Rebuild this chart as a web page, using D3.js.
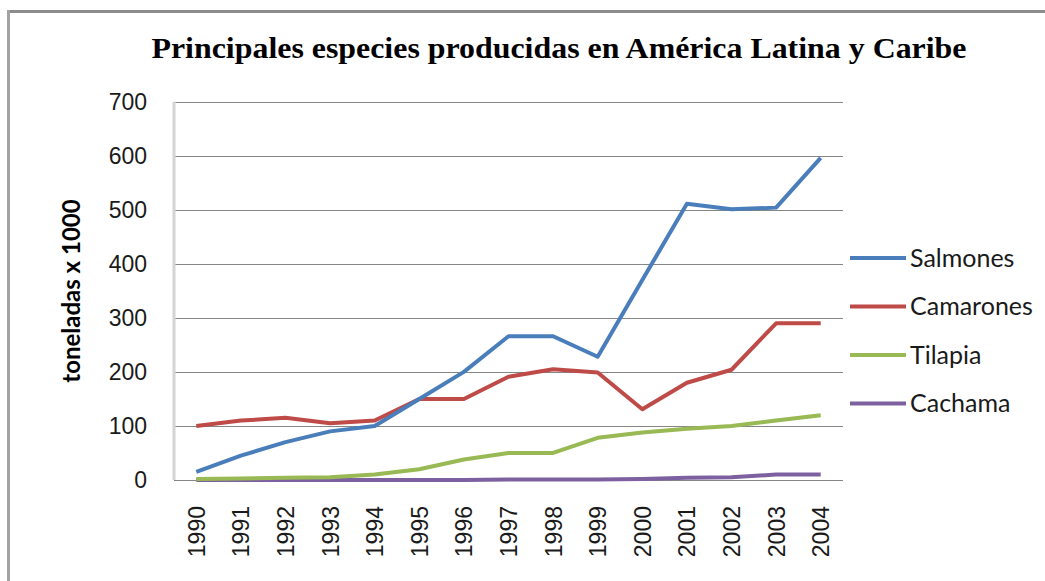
<!DOCTYPE html>
<html>
  <head>
    <meta charset="utf-8">
    <title>Principales especies producidas en América Latina y Caribe</title>
    <script src="https://d3js.org/d3.v7.min.js"></script>
    <style>
      body { margin: 0; background: #fff; }
      svg { display: block; }
    </style>
  </head>
  <body>
    <div id="chart"></div>
    <script>
      // data
      var years = ["1990", "1991", "1992", "1993", "1994", "1995", "1996", "1997", "1998", "1999", "2000", "2001", "2002", "2003", "2004"];
      var salmones = [15, 45, 70, 90, 100, 150, 200, 266, 266, 228, 370, 511, 501, 504, 596];
      var camarones = [100, 110, 115, 105, 110, 150, 150, 191, 205, 199, 131, 180, 204, 290, 290];
      var tilapia = [2, 3, 4, 5, 10, 20, 38, 50, 50, 78, 88, 95, 100, 110, 120];
      var cachama = [0, 0, 0, 0, 0, 0, 0, 1, 1, 1, 2, 4, 5, 10, 10];
      var seriesNames = ["Salmones", "Camarones", "Tilapia", "Cachama"];
      var seriesColors = ["#4a7ebb", "#be4b48", "#98b954", "#7d60a0"];
      var yTicks = [0, 100, 200, 300, 400, 500, 600, 700];

      var series = [salmones, camarones, tilapia, cachama];

      var width = 1045, height = 581;
      var plot = { left: 174, right: 843, top: 101.7, bottom: 480 };

      var svg = d3.select("#chart")
        .append("svg")
          .attr("width", width)
          .attr("height", height);

      // outer frame (only top and left show)
      svg.append("line")
        .attr("x1", 8.5).attr("x2", width)
        .attr("y1", 11.5).attr("y2", 11.5)
        .attr("stroke", "#8c8c8c").attr("stroke-width", 3);
      svg.append("line")
        .attr("x1", 8.5).attr("x2", 8.5)
        .attr("y1", 10).attr("y2", height)
        .attr("stroke", "#a3a3a3").attr("stroke-width", 3);

      // scales
      var x = d3.scalePoint()
        .domain(years)
        .range([plot.left, plot.right])
        .padding(0.5);
      var y = d3.scaleLinear()
        .domain([0, 700])
        .range([plot.bottom, plot.top]);

      // gridlines + y labels
      var yAxis = svg.append("g")
        .attr("transform", "translate(" + plot.left + ",0)")
        .call(d3.axisLeft(y).tickValues(yTicks).tickSize(-(plot.right - plot.left)).tickPadding(27));
      yAxis.select(".domain").remove();
      yAxis.selectAll(".tick line")
        .attr("stroke", "#868686")
        .attr("shape-rendering", "crispEdges");
      yAxis.selectAll(".tick text")
        .attr("font-family", "Liberation Sans, Arial, sans-serif")
        .attr("font-size", 23)
        .attr("fill", "#1a1a1a");

      // left axis line
      svg.append("line")
        .attr("x1", plot.left).attr("x2", plot.left)
        .attr("y1", plot.top).attr("y2", plot.bottom)
        .attr("stroke", "#d4d4d4").attr("stroke-width", 3);

      // x labels
      var xAxis = svg.append("g")
        .attr("transform", "translate(0," + plot.bottom + ")")
        .call(d3.axisBottom(x).tickSize(0).tickPadding(0));
      xAxis.select(".domain").remove();
      xAxis.selectAll(".tick text")
        .attr("font-family", "Liberation Sans, Arial, sans-serif")
        .attr("font-size", 23)
        .attr("fill", "#1a1a1a")
        .attr("text-anchor", "end")
        .attr("dy", null)
        .attr("transform", "translate(8,26) rotate(-90)");

      // lines
      var line = d3.line()
        .x(function(d, i) { return x(years[i]); })
        .y(function(d) { return y(d); });

      svg.append("g")
        .selectAll("path")
        .data(series.slice().reverse())
        .enter().append("path")
          .attr("d", line)
          .attr("fill", "none")
          .attr("stroke", function(d, i) { return seriesColors[series.length - 1 - i]; })
          .attr("stroke-width", 4)
          .attr("stroke-linejoin", "round");

      // legend
      var legend = svg.append("g")
        .selectAll("g")
        .data(seriesNames)
        .enter().append("g")
          .attr("transform", function(d, i) { return "translate(850," + (258 + i * 48.5) + ")"; });
      legend.append("line")
        .attr("x1", 0).attr("x2", 56)
        .attr("stroke", function(d, i) { return seriesColors[i]; })
        .attr("stroke-width", 4);
      legend.append("text")
        .attr("x", 60)
        .attr("dy", "0.35em")
        .attr("font-family", "Lato, 'Open Sans', sans-serif")
        .attr("font-size", 25)
        .attr("fill", "#1a1a1a")
        .text(function(d) { return d; });

      // title
      svg.append("text")
        .attr("x", 559)
        .attr("y", 58)
        .attr("text-anchor", "middle")
        .attr("font-family", "Liberation Serif, 'Times New Roman', serif")
        .attr("font-weight", "bold")
        .attr("font-size", 30)
        .attr("textLength", 815)
        .attr("lengthAdjust", "spacingAndGlyphs")
        .attr("fill", "#000")
        .text("Principales especies producidas en América Latina y Caribe");

      // y axis title
      svg.append("text")
        .attr("transform", "translate(80,291) rotate(-90)")
        .attr("text-anchor", "middle")
        .attr("font-family", "Lato, 'Open Sans', sans-serif")
        .attr("font-weight", "bold")
        .attr("font-size", 24)
        .attr("fill", "#000")
        .text("toneladas x 1000");
    </script>
  </body>
</html>
